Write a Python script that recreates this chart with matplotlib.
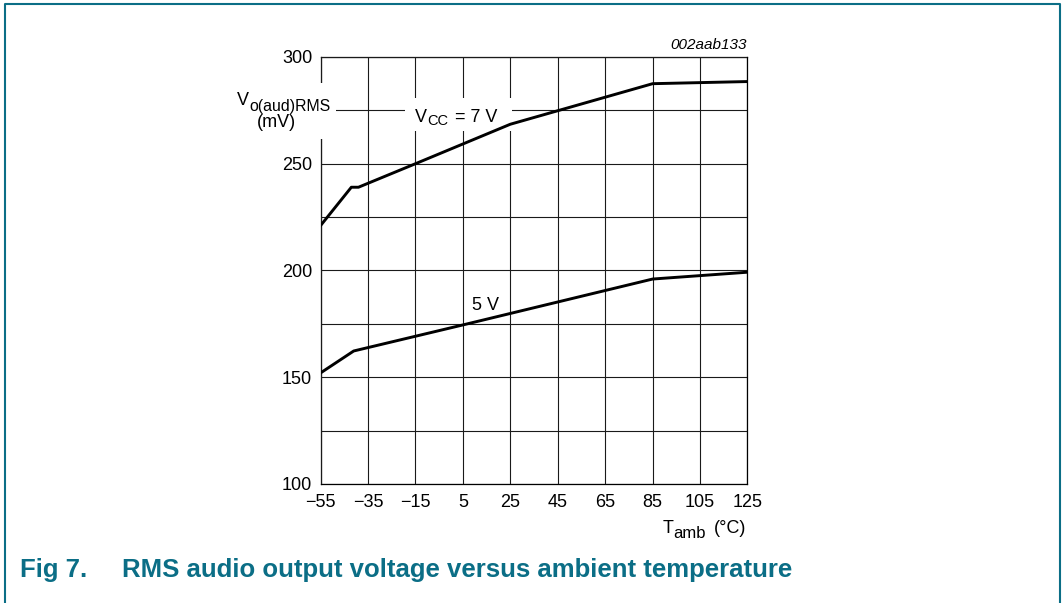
import matplotlib.pyplot as plt
from matplotlib.lines import Line2D
from matplotlib.patches import Rectangle
from matplotlib.ticker import MultipleLocator

# data
temp_7v = [-55, -42, -39, -15, 25, 85, 125]
vout_7v = [221, 239, 239, 250, 268.5, 287.5, 288.5]
temp_5v = [-55, -41, 5, 85, 125]
vout_5v = [152, 162.3, 174.5, 196, 199.2]

x_ticks = [-55, -35, -15, 5, 25, 45, 65, 85, 105, 125]
x_labels = ["\u221255", "\u221235", "\u221215", "5", "25", "45", "65", "85", "105", "125"]
y_ticks = [100, 150, 200, 250, 300]

teal = "#0b6e86"

plt.rcParams["font.family"] = ["Liberation Sans", "DejaVu Sans"]

fig = plt.figure(figsize=(10.63, 6.03), dpi=100)
W, H = 1063, 603


def fx(px):
    return px / W


def fy(py):
    return 1 - py / H


def put(px, py, s, size=13, **kw):
    # text placed by pixel position, left edge / baseline
    return fig.text(fx(px), fy(py), s, fontsize=size, ha="left", va="baseline", zorder=6, **kw)


ax = fig.add_axes([fx(320.5), fy(484), 427 / W, 427 / H])


def blank(x0, y0, x1, y1):
    # white patch above grid and spines but under the curves
    ax.add_patch(Rectangle((fx(x0), fy(y1)), fx(x1) - fx(x0), fy(y0) - fy(y1),
                           transform=fig.transFigure, facecolor="white",
                           edgecolor="none", zorder=2, clip_on=False))


ax.set_xlim(-55, 125)
ax.set_ylim(100, 300)

ax.set_xticks(x_ticks)
ax.set_xticklabels(x_labels, fontsize=13)
ax.set_yticks(y_ticks)
ax.set_yticklabels([str(v) for v in y_ticks], fontsize=13)
ax.yaxis.set_minor_locator(MultipleLocator(25))
ax.tick_params(which="both", length=0)
ax.tick_params(axis="x", pad=7)
ax.tick_params(axis="y", pad=6)
ax.grid(which="both", color="#1a1a1a", linewidth=0.8)
for s in ax.spines.values():
    s.set_linewidth(0.9)
    s.set_zorder(1)

ax.plot(temp_7v, vout_7v, color="black", linewidth=2.1, zorder=3)
ax.plot(temp_5v, vout_5v, color="black", linewidth=2.1, zorder=3)

# curve labels
blank(405, 98, 512, 131)
put(415, 121.5, "V")
put(427, 125, "CC", size=10.5)
put(455, 121.5, "= 7 V")
put(472, 310, "5 V")

# y-axis label sits over the axis with a white backing
blank(225, 83, 336, 139)
put(237, 105, "V")
put(249.5, 110.5, "o(aud)RMS", size=11.4)
put(257, 127, "(mV)")

# x-axis label
put(663, 533, "T")
put(673.5, 538.5, "amb", size=12)
put(714, 533, "(\u00b0C)")

fig.text(fx(747), fy(45), "002aab133", fontsize=11, style="italic", ha="right", va="center")

fig.text(fx(20), fy(570), "Fig 7.", fontsize=18.5, fontweight="bold", color=teal,
         ha="left", va="center")
fig.text(fx(122), fy(570), "RMS audio output voltage versus ambient temperature", fontsize=18.5,
         fontweight="bold", color=teal, ha="left", va="center")

# page frame
fig.add_artist(Line2D([fx(5), fx(5), fx(1060), fx(1060)], [0, fy(4), fy(4), 0],
                      transform=fig.transFigure, color=teal, linewidth=1.5))

fig.savefig("out.png", dpi=100)
